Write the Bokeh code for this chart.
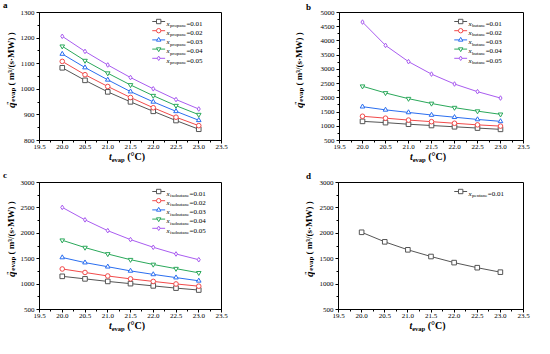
from bokeh.plotting import figure
from bokeh.layouts import column, row
from bokeh.models import Label, SingleIntervalTicker, NumeralTickFormatter, Div
from bokeh.embed import file_html
from bokeh.resources import INLINE

# ---------------- data ----------------
t_evap = [20.0, 20.5, 21.0, 21.5, 22.0, 22.5, 23.0]
fractions = ["0.01", "0.02", "0.03", "0.04", "0.05"]

propane = [
    [1084, 1035, 990, 951, 914, 878, 844],
    [1109, 1057, 1011, 968, 928, 891, 858],
    [1138, 1085, 1037, 991, 951, 914, 879],
    [1168, 1112, 1063, 1017, 975, 936, 901],
    [1207, 1148, 1095, 1046, 1002, 960, 923],
]
butane = [
    [1173, 1128, 1072, 1027, 982, 937, 892],
    [1352, 1285, 1218, 1162, 1106, 1050, 1006],
    [1689, 1577, 1487, 1397, 1319, 1240, 1173],
    [2407, 2172, 1970, 1801, 1655, 1532, 1420],
    [4663, 3844, 3272, 2834, 2486, 2217, 1992],
]
isobutane = [
    [1153, 1103, 1053, 1009, 965, 921, 883],
    [1298, 1229, 1160, 1103, 1053, 1003, 959],
    [1524, 1423, 1342, 1260, 1191, 1128, 1065],
    [1863, 1719, 1593, 1480, 1386, 1304, 1222],
    [2510, 2265, 2052, 1876, 1725, 1593, 1480],
]
pentane = [
    [2020, 1832, 1675, 1543, 1423, 1323, 1235],
]

colors = ["#555555", "#f24a4a", "#2a6ef0", "#2aa85a", "#a95cf0"]
markers = ["square", "circle", "triangle", "inverted_triangle", "diamond"]

FONT = "Liberation Serif"
XMIN, XMAX = 19.5, 23.5
CELL_W, CELL_H = 267, 169
AX = 20   # room for the y tick labels
AB = 12   # room for the x tick labels


def txt(p, x, y, text, size, style="normal", dx=0, dy=0):
    p.add_layout(Label(x=x, y=y, x_offset=dx, y_offset=dy, text=text,
                       text_font=FONT, text_font_size=f"{size}px",
                       text_font_style=style, text_color="black",
                       text_align="left", text_baseline="alphabetic"))


def div(w, h, inner):
    html = (f'<div style="position:relative;width:{w}px;height:{h}px;'
            f'font-family:\'{FONT}\',serif;color:black;">{inner}</div>')
    return Div(text=html, width=w, height=h, margin=0,
               styles={"overflow": "visible", "padding": "0px"})


def panel(letter, series, sub, sub_em, ylo, yhi, ystep, FL, FT, FW, FH,
          ytitle_cx, letter_x, letter_top):
    R = CELL_W - FL - FW
    H = FT + FH + AB
    p = figure(width=AX + FW + R, height=H, min_border_left=AX,
               min_border_right=R, min_border_top=FT, min_border_bottom=AB,
               x_range=(XMIN, XMAX), y_range=(ylo, yhi),
               output_backend="svg", toolbar_location=None,
               background_fill_color="white", border_fill_color="white")
    p.grid.visible = False
    p.outline_line_color = "black"
    p.outline_line_width = 1
    p.xaxis.ticker = SingleIntervalTicker(interval=0.5, num_minor_ticks=2)
    p.yaxis.ticker = SingleIntervalTicker(interval=ystep, num_minor_ticks=2)
    p.xaxis.formatter = NumeralTickFormatter(format="0.0")
    for ax in (p.xaxis, p.yaxis):
        ax.axis_line_color = "black"
        ax.axis_line_width = 1
        ax.major_tick_line_color = "black"
        ax.minor_tick_line_color = "black"
        ax.major_tick_in = 0
        ax.major_tick_out = 3
        ax.minor_tick_in = 0
        ax.minor_tick_out = 2
        ax.major_label_text_font = FONT
        ax.major_label_text_font_size = "7px"
        ax.major_label_text_color = "black"
    p.xaxis.major_label_standoff = 1
    p.yaxis.major_label_standoff = 2

    sx = (XMAX - XMIN) / FW
    sy = (yhi - ylo) / FH

    for i, ys in enumerate(series):
        c = colors[i]
        p.line(t_evap, ys, line_color=c, line_width=1)
        p.scatter(t_evap, ys, marker=markers[i], size=4.6, line_color=c,
                  fill_color="white", line_width=1)

        # legend entry (positions in pixels from the frame's top-right corner)
        oy = 9 + i * 9.2
        ly = yhi - oy * sy
        x0 = XMAX - 70 * sx
        x1 = XMAX - 57 * sx
        p.line([x0, x1], [ly, ly], line_color=c, line_width=1)
        p.scatter([(x0 + x1) / 2], [ly], marker=markers[i], size=4.4,
                  line_color=c, fill_color="white", line_width=1)
        base = -oy - 2.3
        txt(p, XMAX, yhi, "x", 7, "italic", dx=-55, dy=base)
        txt(p, XMAX, yhi, sub, 5, "normal", dx=-51.5, dy=base - 1.8)
        txt(p, XMAX, yhi, "=" + fractions[i], 7, "normal",
            dx=-51.5 + sub_em * 5 + 0.3, dy=base)

    # left strip: panel letter + rotated y title (reads bottom to top)
    SL = FL - AX
    bw = 14
    left_html = (
        f'<span style="position:absolute;left:{letter_x}px;top:{letter_top}px;'
        f'font-size:9px;line-height:9px;font-weight:bold;">{letter}</span>'
        f'<div style="position:absolute;left:{ytitle_cx - bw / 2}px;top:{FT - 6}px;'
        f'width:{bw}px;height:{FH}px;writing-mode:vertical-rl;'
        'transform:rotate(180deg);text-align:center;white-space:nowrap;'
        f'font-weight:bold;font-size:9px;line-height:{bw}px;">'
        '<i style="font-size:11px;">q</i>'
        '<span style="font-size:7px;vertical-align:2px;margin-top:-3px;">″</span>'
        '<span style="font-size:7px;vertical-align:-2px;">evap</span>'
        ' ( m³/(s·MW) )</div>'
    )
    ls = div(SL, H, left_html)

    # bottom strip: x title
    BH = CELL_H - H
    cx = FL + FW / 2 - 2
    bottom_html = (
        f'<div style="position:absolute;left:{cx - 60}px;top:0px;width:120px;'
        'text-align:center;white-space:nowrap;font-weight:bold;'
        'font-size:10px;line-height:10px;">'
        '<i>t</i><span style="font-size:6.5px;vertical-align:-2px;">evap</span>'
        ' (°C)</div>'
    )
    bs = div(CELL_W, BH, bottom_html)

    return column(row(ls, p), bs)


pa = panel("a", propane, "propane", 3.22, 800, 1300, 100,
           37, 12, 184, 128, 9, 3, 1)
pb = panel("b", butane, "butane", 2.67, 500, 5000, 500,
           70, 12, 186, 128, 30, 39, 3)
pc = panel("c", isobutane, "isobutane", 3.83, 500, 3000, 500,
           37, 13, 184, 127, 9, 3, 2)
pd = panel("d", pentane, "pentane", 3.11, 500, 3000, 500,
           69, 13, 187, 127, 40, 39, 3)

layout = column(row(pa, pb), row(pc, pd))
open("out.html", "w").write(file_html(layout, INLINE))
